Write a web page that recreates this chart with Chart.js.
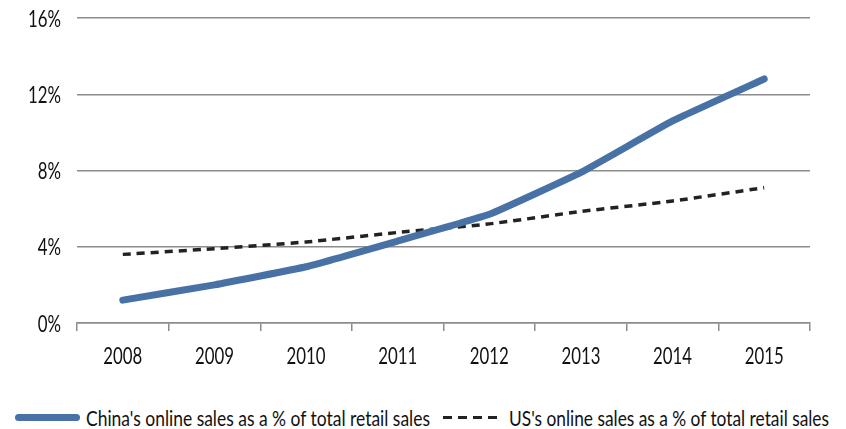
<!DOCTYPE html>
<html>
<head>
<meta charset="utf-8">
<script src="https://cdn.jsdelivr.net/npm/chart.js@4/dist/chart.umd.min.js"></script>
<style>
  html, body { margin: 0; padding: 0; background: #fff; }
  #wrap { position: relative; width: 846px; height: 429px; overflow: hidden; }
  #salesChart { position: absolute; left: 0; top: 0; }
  .key { position: absolute; top: 405px; height: 24px; display: flex; align-items: center; }
  .key .txt {
    font-family: Lato, 'DejaVu Sans', sans-serif;
    font-size: 21px; color: #111; white-space: nowrap;
    display: inline-block; transform-origin: left center;
  }
  .swatch-solid { width: 65px; height: 7px; background: #4872a6; border-radius: 4px; margin-right: 6px; }
  .swatch-dash {
    width: 56px; height: 3px; margin-right: 10px;
    background: repeating-linear-gradient(90deg, #222 0 9px, transparent 9px 15px);
  }
</style>
</head>
<body>
<div id="wrap">
  <canvas id="salesChart" width="846" height="385"></canvas>
  <div class="key" style="left:15px"><span class="swatch-solid"></span><span class="txt" id="keyChina" data-w="344"></span></div>
  <div class="key" style="left:443px"><span class="swatch-dash"></span><span class="txt" id="keyUs" data-w="320"></span></div>
</div>
<script>
// Online sales share of total retail sales, China vs US
const years = ['2008', '2009', '2010', '2011', '2012', '2013', '2014', '2015'];
const chinaShare = [1.2, 2.0, 2.95, 4.3, 5.7, 7.9, 10.6, 12.8];
const usShare = [3.6, 3.9, 4.25, 4.75, 5.2, 5.85, 6.4, 7.1];
const yTicks = [0, 4, 8, 12, 16];

const chinaLabel = "China's online sales as a % of total retail sales";
const usLabel = "US's online sales as a % of total retail sales";

const GRID = '#8c8c8c';
const TICK_FONT = "24px Lato, 'DejaVu Sans', sans-serif";

// legend below the plot, squeezed to a narrow face
document.getElementById('keyChina').textContent = chinaLabel;
document.getElementById('keyUs').textContent = usLabel;
document.querySelectorAll('.key .txt').forEach(el => {
    const w = el.getBoundingClientRect().width;
    el.style.transform = 'scaleX(' + (Number(el.dataset.w) / w) + ')';
});

// axis labels drawn in a tall, condensed style
const narrowTicks = {
    id: 'narrowTicks',
    afterDraw(chart) {
        const { ctx, scales: { x, y } } = chart;
        ctx.save();
        ctx.font = TICK_FONT;
        ctx.fillStyle = '#111';
        ctx.textBaseline = 'middle';
        const sx = 39 / ctx.measureText('2008').width;

        const put = (text, px, py, align) => {
            ctx.save();
            ctx.translate(px, py);
            ctx.scale(sx, 1);
            ctx.textAlign = align;
            ctx.fillText(text, 0, 0);
            ctx.restore();
        };

        y.ticks.forEach(t => put(t.value + '%', y.right - 16, y.getPixelForValue(t.value) + 1, 'right'));
        x.ticks.forEach((t, i) => put(years[i], x.getPixelForTick(i), x.top + 33, 'center'));
        ctx.restore();
    }
};

const ctx = document.getElementById('salesChart').getContext('2d');

new Chart(ctx, {
    type: 'line',
    data: {
        labels: years,
        datasets: [
            {
                label: chinaLabel,
                data: chinaShare,
                borderColor: '#4872a6',
                backgroundColor: '#4872a6',
                borderWidth: 7,
                borderCapStyle: 'round',
                borderJoinStyle: 'round',
                pointRadius: 0,
                tension: 0.1
            },
            {
                label: usLabel,
                data: usShare,
                borderColor: '#222222',
                backgroundColor: '#222222',
                borderWidth: 3.5,
                borderDash: [8, 6],
                pointRadius: 0,
                tension: 0.2
            }
        ]
    },
    options: {
        responsive: false,
        animation: false,
        layout: { padding: { left: 0, right: 36, top: 18, bottom: 0 } },
        plugins: {
            tooltip: { enabled: false },
            legend: { display: false }
        },
        scales: {
            x: {
                offset: true,
                grid: {
                    offset: true,
                    drawOnChartArea: false,
                    drawTicks: true,
                    tickLength: 8,
                    color: GRID,
                    lineWidth: 1.5
                },
                border: { display: true, color: GRID, width: 1.5 },
                ticks: { display: false },
                afterFit: s => { s.height = 62; }
            },
            y: {
                min: 0,
                max: 16,
                afterBuildTicks: s => { s.ticks = yTicks.map(v => ({ value: v })); },
                grid: { drawTicks: false, color: GRID, lineWidth: 1.5 },
                border: { display: false },
                ticks: { display: false },
                afterFit: s => { s.width = 77; s.paddingTop = 0; s.paddingBottom = 0; }
            }
        }
    },
    plugins: [narrowTicks]
});
</script>
</body>
</html>
